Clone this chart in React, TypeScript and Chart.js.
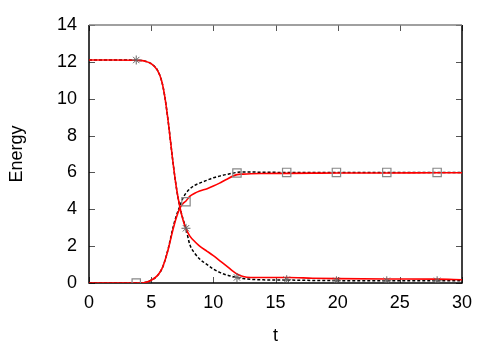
import React, { useEffect, useRef } from "react";
import { Chart, registerables } from "chart.js";

Chart.register(...registerables);

// time grid for the curves
const tCurve = [0, 2, 4, 4.5, 5, 5.5, 5.85, 6.1, 6.4, 6.7, 7.0, 7.3, 7.55, 7.8, 8.1, 8.5, 8.9, 9.5, 10, 10.5, 11, 11.9, 12.4, 13, 14, 16, 18, 20, 24, 28, 30];

// black dashed, decaying energy
const blackDecay = [12.1, 12.1, 12.08, 12.04, 11.9, 11.55, 10.95, 10.1, 8.6, 6.85, 5.3, 4.15, 3.5, 2.95, 2.1, 1.62, 1.3, 1.0, 0.76, 0.58, 0.45, 0.3, 0.24, 0.2, 0.17, 0.16, 0.14, 0.13, 0.12, 0.12, 0.12];
// red solid, decaying energy
const redDecay = [12.1, 12.1, 12.08, 12.04, 11.9, 11.55, 10.95, 10.1, 8.6, 6.85, 5.3, 4.15, 3.45, 2.95, 2.56, 2.25, 2.0, 1.72, 1.48, 1.22, 0.96, 0.49, 0.35, 0.3, 0.3, 0.3, 0.26, 0.24, 0.22, 0.21, 0.18];
// black dashed, rising energy
const blackRise = [0, 0, 0, 0.03, 0.15, 0.4, 0.75, 1.2, 1.95, 2.85, 3.6, 4.15, 4.6, 4.88, 5.1, 5.3, 5.42, 5.58, 5.71, 5.8, 5.88, 6.0, 6.02, 6.02, 6.01, 6.0, 6.0, 6.0, 6.0, 6.0, 6.0];
// red solid, rising energy
const redRise = [0, 0, 0, 0.03, 0.15, 0.4, 0.75, 1.2, 1.9, 2.75, 3.5, 4.05, 4.3, 4.45, 4.7, 4.87, 4.99, 5.12, 5.26, 5.42, 5.6, 5.88, 5.91, 5.93, 5.94, 5.95, 5.96, 5.97, 5.97, 5.98, 5.98];

// markers
const tMarks = [3.8, 7.8, 11.9, 15.9, 19.9, 23.95, 28.0];
const squareMarks = [0, 4.41, 5.97, 6.0, 6.0, 6.0, 6.0];
const starMarks = [12.1, 2.97, 0.3, 0.18, 0.12, 0.12, 0.12];

const xTicks = [0, 5, 10, 15, 20, 25, 30];
const yTicks = [0, 2, 4, 6, 8, 10, 12, 14];

const pts = (xs: number[], ys: number[]) => xs.map((x, i) => ({ x, y: ys[i] }));

const FONT = "'Liberation Sans', Arial, Helvetica, sans-serif";

const framePlugin = {
  id: "frame",
  beforeDatasetsDraw(chart: any) {
    const { ctx, chartArea } = chart;
    const { left, right, top, bottom } = chartArea;
    const xs = chart.scales.x;
    const ys = chart.scales.y;
    ctx.save();
    ctx.lineWidth = 1;
    ctx.strokeStyle = "#555";
    const tl = 6;
    for (const v of xTicks) {
      const px = Math.round(xs.getPixelForValue(v)) + 0.5;
      ctx.beginPath();
      ctx.moveTo(px, bottom);
      ctx.lineTo(px, bottom - tl);
      ctx.moveTo(px, top);
      ctx.lineTo(px, top + tl);
      ctx.stroke();
    }
    for (const v of yTicks) {
      const py = Math.round(ys.getPixelForValue(v)) + 0.5;
      ctx.beginPath();
      ctx.moveTo(left, py);
      ctx.lineTo(left + tl, py);
      ctx.moveTo(right, py);
      ctx.lineTo(right - tl, py);
      ctx.stroke();
    }
    ctx.lineWidth = 1.5;
    ctx.strokeStyle = "#000";
    ctx.beginPath();
    ctx.moveTo(left, top);
    ctx.lineTo(left, bottom);
    ctx.lineTo(right, bottom);
    ctx.lineTo(right, top);
    ctx.stroke();
    ctx.strokeStyle = "#808080";
    ctx.beginPath();
    ctx.moveTo(left, top);
    ctx.lineTo(right, top);
    ctx.stroke();
    ctx.restore();
  },
};

export default function App() {
  const ref = useRef<HTMLCanvasElement | null>(null);
  useEffect(() => {
    if (!ref.current) return;
    const lineDs = (label: string, data: any, color: string, dashed: boolean) => ({
      label,
      data,
      borderColor: color,
      backgroundColor: color,
      borderWidth: dashed ? 1.5 : 1.6,
      borderDash: dashed ? [3, 2] : [],
      pointRadius: 0,
      showLine: true,
      fill: false,
      cubicInterpolationMode: "monotone" as const,
    });
    const chart = new Chart(ref.current, {
      type: "scatter",
      data: {
        datasets: [
          {
            label: "squares",
            data: pts(tMarks, squareMarks),
            pointStyle: "rect",
            pointRadius: 5.9,
            borderColor: "#888",
            backgroundColor: "rgba(0,0,0,0)",
            borderWidth: 1.2,
            showLine: false,
          } as any,
          {
            label: "stars",
            data: pts(tMarks, starMarks),
            pointStyle: "star",
            pointRadius: 4.5,
            borderColor: "#666",
            backgroundColor: "rgba(0,0,0,0)",
            borderWidth: 1,
            showLine: false,
          } as any,
          lineDs("red decay", pts(tCurve, redDecay), "#ff0000", false),
          lineDs("red rise", pts(tCurve, redRise), "#ff0000", false),
          lineDs("black decay", pts(tCurve, blackDecay), "#000000", true),
          lineDs("black rise", pts(tCurve, blackRise), "#000000", true),
        ],
      },
      options: {
        animation: false,
        responsive: false,
        maintainAspectRatio: false,
        events: [],
        layout: { padding: { left: 0, right: 38, top: 25, bottom: 0 } },
        plugins: { legend: { display: false }, tooltip: { enabled: false } },
        scales: {
          x: {
            type: "linear",
            min: 0,
            max: 30,
            afterFit: (s: any) => {
              s.height = 67;
            },
            afterBuildTicks: (s: any) => {
              s.ticks = xTicks.map((v) => ({ value: v }));
            },
            grid: { display: false, drawTicks: false },
            border: { display: false },
            ticks: { color: "#000", font: { family: FONT, size: 18 }, padding: 9, maxRotation: 0 },
            title: { display: true, text: "t", color: "#000", font: { family: FONT, size: 18 }, padding: { top: 0, bottom: 3 } },
          },
          y: {
            type: "linear",
            min: 0,
            max: 14,
            afterFit: (s: any) => {
              s.width = 89;
            },
            afterBuildTicks: (s: any) => {
              s.ticks = yTicks.map((v) => ({ value: v }));
            },
            grid: { display: false, drawTicks: false },
            border: { display: false },
            ticks: { color: "#000", font: { family: FONT, size: 18 }, padding: 12 },
            title: { display: true, text: "Energy", color: "#000", font: { family: FONT, size: 18 }, padding: { top: 6, bottom: 0 } },
          },
        },
      },
      plugins: [framePlugin],
    });
    return () => chart.destroy();
  }, []);
  return (
    <div style={{ position: "fixed", left: 0, top: 0, width: 500, height: 350, background: "#fff" }}>
      <canvas ref={ref} width={500} height={350} style={{ width: 500, height: 350, display: "block" }} />
    </div>
  );
}
